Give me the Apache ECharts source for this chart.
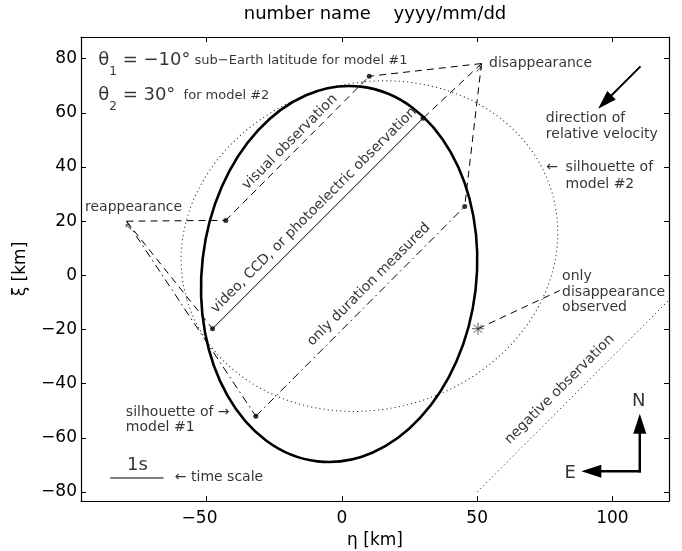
<!DOCTYPE html>
<html><head><meta charset="utf-8">
<script src="https://cdn.jsdelivr.net/npm/echarts@6/dist/echarts.min.js"></script>
<style>html,body{margin:0;padding:0;background:#fff}#c{width:682px;height:551px}</style>
</head><body><div id="c"></div>
<script>
// ---- data (km) ----
const xTicks = [-50, 0, 50, 100];
const yTicks = [-80, -60, -40, -20, 0, 20, 40, 60, 80];
// ellipse: [centerX, centerY, semiAxis along angle, semiAxis perpendicular, angle deg]
const model1 = [-1.0, 0.5, 69.7, 50.7, 83.4];
const model2 = [10.2, 10.8, 70.3, 60.2, 16];
const visualChord = [[-42.9, 20.3], [10.1, 73.5]];
const videoChord = [[-47.8, -19.7], [30.0, 58.0]];
const durationChord = [[-31.8, -52.0], [45.4, 25.4]];
const negativeChord = [[50.0, -80.0], [126.0, -4.0]];
const disappearPoint = [51.6, 78.2];
const reappearPoint = [-79.6, 20.0];
const onlyDisappearStar = [50.3, -19.7];
const onlyDisappearLabelEnd = [80.5, -5.6];
const timeScaleBar = [[-85.6, -74.8], [-65.9, -74.8]];
const velocityArrow = [110.1, 76.9, 94.7, 61.5];
const northArrow = [110.1, -72.3, 110.1, -51.1];
const eastArrow = [110.1, -72.3, 88.5, -72.3];
const xRange = [-96.4, 120.9];
const yRange = [-83.3, 88.0];

const FONT = '"DejaVu Sans", sans-serif';
const DASH = [7, 5], DASHDOT = [8, 4, 1.5, 4], DOT = [1.2, 3];

function seg(points, type, width, color) {
  return { type: 'line', data: points, symbol: 'none', silent: true, animation: false,
    lineStyle: { color: color || '#000', width: width || 1, type: type || 'solid' }, z: 3 };
}
function ellipseSeries(p, style) {
  return { type: 'custom', coordinateSystem: 'cartesian2d', data: [p], encode: { x: 0, y: 1 }, silent: true, z: 2,
    renderItem: function (params, api) {
      const c = api.coord([api.value(0), api.value(1)]);
      const s = api.size([api.value(2), api.value(3)]);
      return { type: 'ellipse', x: c[0], y: c[1], rotation: api.value(4) * Math.PI / 180,
        shape: { cx: 0, cy: 0, rx: s[0], ry: s[1] }, style: style };
    } };
}
function arrowSeries(list, lw, hl, hw) {
  return { type: 'custom', coordinateSystem: 'cartesian2d', data: list, encode: { x: 0, y: 1 }, silent: true, z: 5,
    renderItem: function (params, api) {
      const a = api.coord([api.value(0), api.value(1)]);
      const b = api.coord([api.value(2), api.value(3)]);
      const dx = b[0] - a[0], dy = b[1] - a[1], L = Math.hypot(dx, dy), ux = dx / L, uy = dy / L;
      const base = [b[0] - ux * hl, b[1] - uy * hl];
      return { type: 'group', children: [
        { type: 'line', shape: { x1: a[0] - ux * lw / 2, y1: a[1] - uy * lw / 2, x2: base[0] + ux * 2, y2: base[1] + uy * 2 }, style: { stroke: '#000', lineWidth: lw } },
        { type: 'polygon', shape: { points: [b, [base[0] - uy * hw, base[1] + ux * hw], [base[0] + uy * hw, base[1] - ux * hw]] }, style: { fill: '#000' } }
      ] };
    } };
}
function lab(text, pos, opts) {
  return { value: pos, label: Object.assign({ show: true, formatter: text, position: [0, 0], align: 'left',
    verticalAlign: 'middle', fontFamily: FONT, fontSize: 14, color: '#000', lineHeight: 16 }, opts || {}) };
}
const richTheta = {
  a: { fontFamily: FONT, fontSize: 18, lineHeight: 20, color: '#000' },
  s: { fontFamily: FONT, fontSize: 12, lineHeight: 14, padding: [23, 0, 0, 0], color: '#000' },
  b: { fontFamily: FONT, fontSize: 13, lineHeight: 16, color: '#000' }
};
const labels = [
  lab('{a|θ}{s|1}{a| = −10°}{b| sub−Earth latitude for model #1}', [-90, 79.2], { rich: richTheta }),
  lab('{a|θ}{s|2}{a| = 30°}{b|  for model #2}', [-90, 66.3], { rich: richTheta }),
  lab('disappearance', [54.4, 78.2]),
  lab('↗', disappearPoint, { align: 'right', verticalAlign: 'top', fontSize: 10, padding: [-2, -2, 0, 0] }),
  lab('reappearance', [-94.9, 25.0]),
  lab('↖', reappearPoint, { align: 'left', verticalAlign: 'top', fontSize: 10, padding: [-2, 0, 0, -2] }),
  lab('direction of\nrelative velocity', [75.4, 54.9], { lineHeight: 15.7 }),
  lab('←', [75.6, 40.0]),
  lab('silhouette of\nmodel #2', [82.7, 36.8], { lineHeight: 17.3 }),
  lab('only\ndisappearance\nobserved', [81.4, -6.2], { lineHeight: 15.7 }),
  lab('silhouette of →\nmodel #1', [-79.8, -53.3], { lineHeight: 15.2 }),
  lab('1s', [-75.5, -70.2], { align: 'center', fontSize: 18 }),
  lab('← time scale', [-61.7, -74.6]),
  lab('N', [109.7, -46.5], { align: 'center', fontSize: 18 }),
  lab('E', [84.4, -73.0], { align: 'center', fontSize: 18 }),
  lab('visual observation', [-19.2, 49.2], { align: 'center', rotate: 45 }),
  lab('video, CCD, or photoelectric observation', [-10.3, 24.0], { align: 'center', rotate: 45 }),
  lab('only duration measured', [10.0, -3.4], { align: 'center', rotate: 45 }),
  lab('negative observation', [80.5, -42.1], { align: 'center', rotate: 45 })
];

function fmtX(v) { return v < 0 ? '{n|−' + Math.abs(v) + '}{p|}' : '{n|' + v + '}'; }
function fmtY(v) { return v < 0 ? '−' + Math.abs(v) : String(v); }
const tickStyle = { show: true, inside: true, length: 5, lineStyle: { color: '#000', width: 1 } };
const lineStyleAxis = { show: true, onZero: false, lineStyle: { color: '#000', width: 1.2 } };

const option = {
  animation: false,
  backgroundColor: '#fff',
  grid: { left: 81, right: 13, top: 37, bottom: 50, containLabel: false, outerBoundsMode: 'none' },
  graphic: [{ type: 'text', x: 375, y: 14, style: { text: 'number name    yyyy/mm/dd', align: 'center', verticalAlign: 'middle',
    font: '18px "DejaVu Sans"', fill: '#000' } }],
  xAxis: [
    { type: 'value', position: 'bottom', min: xRange[0], max: xRange[1], axisLine: lineStyleAxis,
      axisTick: Object.assign({ customValues: xTicks }, tickStyle), splitLine: { show: false },
      axisLabel: { customValues: xTicks, formatter: fmtX, margin: 9, fontFamily: FONT, fontSize: 17, color: '#000',
        rich: { n: { fontFamily: FONT, fontSize: 17, color: '#000' }, p: { width: 14 } } },
      name: 'η [km]', nameLocation: 'middle', nameGap: 26, nameTextStyle: { fontFamily: FONT, fontSize: 17, color: '#000' } },
    { type: 'value', position: 'top', min: xRange[0], max: xRange[1], axisLine: lineStyleAxis,
      axisTick: Object.assign({ customValues: xTicks }, tickStyle), axisLabel: { show: false }, splitLine: { show: false } }
  ],
  yAxis: [
    { type: 'value', position: 'left', min: yRange[0], max: yRange[1], axisLine: lineStyleAxis,
      axisTick: Object.assign({ customValues: yTicks }, tickStyle), splitLine: { show: false },
      axisLabel: { customValues: yTicks, formatter: fmtY, margin: 4, fontFamily: FONT, fontSize: 17, color: '#000' },
      name: 'ξ [km]', nameLocation: 'middle', nameGap: 52, nameTextStyle: { fontFamily: FONT, fontSize: 17, color: '#000' } },
    { type: 'value', position: 'right', min: yRange[0], max: yRange[1], axisLine: lineStyleAxis,
      axisTick: Object.assign({ customValues: yTicks }, tickStyle), axisLabel: { show: false }, splitLine: { show: false } }
  ],
  series: [
    ellipseSeries(model2, { fill: 'none', stroke: '#333', lineWidth: 1, lineDash: DOT }),
    ellipseSeries(model1, { fill: 'none', stroke: '#000', lineWidth: 2.6 }),
    seg(visualChord, DASH),
    seg(videoChord, 'solid'),
    seg(durationChord, DASHDOT),
    seg(negativeChord, DOT, 1, '#333'),
    seg([disappearPoint, visualChord[1]], DASH),
    seg([disappearPoint, videoChord[1]], DASH),
    seg([disappearPoint, durationChord[1]], DASH),
    seg([reappearPoint, visualChord[0]], DASH),
    seg([reappearPoint, videoChord[0]], DASH),
    seg([reappearPoint, durationChord[0]], DASHDOT),
    seg([onlyDisappearStar, onlyDisappearLabelEnd], DASH),
    seg(timeScaleBar, 'solid', 1.2),
    arrowSeries([velocityArrow], 2, 19, 6),
    arrowSeries([northArrow, eastArrow], 2.5, 20, 6.5),
    { type: 'scatter', symbol: 'circle', symbolSize: 5, silent: true, z: 6, itemStyle: { color: '#000' },
      data: [visualChord[0], visualChord[1], videoChord[0], videoChord[1], durationChord[0], durationChord[1]] },
    { type: 'scatter', symbol: 'path://M5,0L5,10M0,5L10,5M1.5,1.5L8.5,8.5M1.5,8.5L8.5,1.5', symbolSize: 12, silent: true, z: 6,
      itemStyle: { color: 'none', borderColor: '#333', borderWidth: 1 }, data: [onlyDisappearStar] },
    { type: 'scatter', symbolSize: 0.1, silent: true, z: 7, itemStyle: { color: 'rgba(0,0,0,0)' }, data: labels }
  ]
};
const chart = echarts.init(document.getElementById('c'), null, { renderer: 'canvas' });
chart.setOption(option);
</script>
</body></html>
